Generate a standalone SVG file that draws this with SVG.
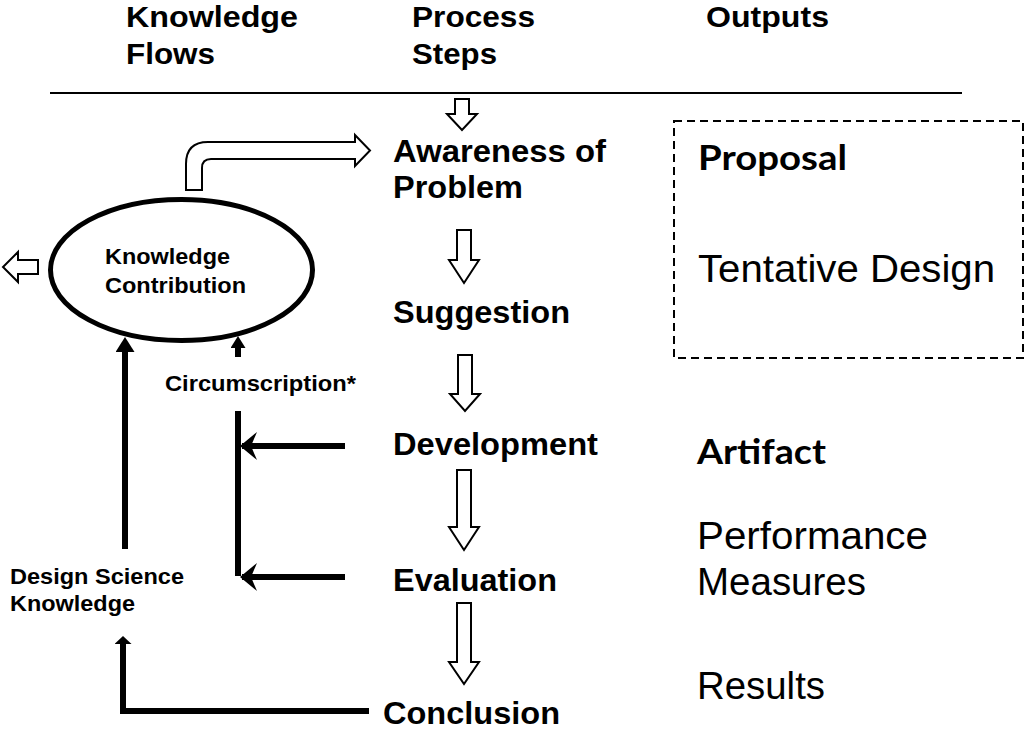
<svg xmlns="http://www.w3.org/2000/svg" width="1034" height="738" viewBox="0 0 1034 738">
<style>
.hd{font-family:"Liberation Sans",Arial,sans-serif;font-weight:bold;font-size:30px;fill:#000}
.st{font-family:"Liberation Sans",Arial,sans-serif;font-weight:bold;font-size:31px;fill:#000}
.sm{font-family:"Liberation Sans",Arial,sans-serif;font-weight:bold;font-size:21.5px;fill:#000}
.ob{font-family:Lato,"Open Sans",sans-serif;font-weight:bold;font-size:34px;fill:#000}
.or{font-family:"Liberation Sans",Arial,sans-serif;font-size:38px;fill:#000}
.hollow{fill:#fff;stroke:#000;stroke-width:2;stroke-linejoin:miter}
.conn{fill:none;stroke:#000;stroke-width:6}
</style>
<defs>
<marker id="tri" markerUnits="userSpaceOnUse" markerWidth="15" markerHeight="19" refX="7" refY="9.5" orient="auto" viewBox="0 0 15 19">
<path d="M0,0 L15,9.5 L0,19 Z" fill="#000"/>
</marker>
<marker id="tri2" markerUnits="userSpaceOnUse" markerWidth="12" markerHeight="15" refX="5" refY="7.5" orient="auto" viewBox="0 0 12 15">
<path d="M0,0 L12,7.5 L0,15 Z" fill="#000"/>
</marker>
<marker id="stealth" markerUnits="userSpaceOnUse" markerWidth="18" markerHeight="30" refX="15" refY="15" orient="auto" viewBox="0 0 18 30">
<path d="M0,1 L17,15 L0,29 L6,15 Z" fill="#000"/>
</marker>
<marker id="small" markerUnits="userSpaceOnUse" markerWidth="8" markerHeight="17" refX="3" refY="8.5" orient="auto" viewBox="0 0 8 17">
<path d="M0,0 L8,8.5 L0,17 Z" fill="#000"/>
</marker>
</defs>
<rect width="1034" height="738" fill="#fff"/>

<g id="header">
<text class="hd" x="126" y="27" textLength="172" lengthAdjust="spacingAndGlyphs">Knowledge</text>
<text class="hd" x="126" y="64" textLength="89" lengthAdjust="spacingAndGlyphs">Flows</text>
<text class="hd" x="412" y="27" textLength="123" lengthAdjust="spacingAndGlyphs">Process</text>
<text class="hd" x="412" y="64" textLength="85" lengthAdjust="spacingAndGlyphs">Steps</text>
<text class="hd" x="706" y="27" textLength="123" lengthAdjust="spacingAndGlyphs">Outputs</text>
<line x1="50" y1="93" x2="962" y2="93" stroke="#000" stroke-width="2"/>
</g>

<g id="knowledge-contribution">
<ellipse cx="181.5" cy="270" rx="131" ry="70.5" fill="#fff" stroke="#000" stroke-width="5"/>
<text class="sm" x="105" y="264" textLength="125" lengthAdjust="spacingAndGlyphs">Knowledge</text>
<text class="sm" x="105" y="293" textLength="141" lengthAdjust="spacingAndGlyphs">Contribution</text>
</g>

<g id="circumscription">
<text class="sm" x="165" y="391" textLength="191" lengthAdjust="spacingAndGlyphs">Circumscription*</text>
</g>

<g id="design-science-knowledge">
<text class="sm" x="10" y="584" textLength="174" lengthAdjust="spacingAndGlyphs">Design Science</text>
<text class="sm" x="10" y="611" textLength="125" lengthAdjust="spacingAndGlyphs">Knowledge</text>
</g>

<g id="step-awareness">
<text class="st" x="393" y="162" textLength="213" lengthAdjust="spacingAndGlyphs">Awareness of</text>
<text class="st" x="393" y="198" textLength="130" lengthAdjust="spacingAndGlyphs">Problem</text>
</g>
<g id="step-suggestion">
<text class="st" x="393" y="323" textLength="177" lengthAdjust="spacingAndGlyphs">Suggestion</text>
</g>
<g id="step-development">
<text class="st" x="393" y="455" textLength="205" lengthAdjust="spacingAndGlyphs">Development</text>
</g>
<g id="step-evaluation">
<text class="st" x="393" y="591" textLength="164" lengthAdjust="spacingAndGlyphs">Evaluation</text>
</g>
<g id="step-conclusion">
<text class="st" x="383" y="724" textLength="177" lengthAdjust="spacingAndGlyphs">Conclusion</text>
</g>

<g id="output-proposal">
<rect x="674" y="121" width="349" height="237" fill="none" stroke="#000" stroke-width="2" stroke-dasharray="8 5"/>
<text class="ob" x="698" y="170" textLength="149" lengthAdjust="spacingAndGlyphs">Proposal</text>
<text class="or" x="698" y="282" textLength="297" lengthAdjust="spacingAndGlyphs">Tentative Design</text>
</g>
<g id="output-artifact">
<text class="ob" x="697" y="464" textLength="129" lengthAdjust="spacingAndGlyphs">Artifact</text>
</g>
<g id="output-performance">
<text class="or" x="697" y="549" textLength="231" lengthAdjust="spacingAndGlyphs">Performance</text>
<text class="or" x="697" y="595" textLength="169" lengthAdjust="spacingAndGlyphs">Measures</text>
</g>
<g id="output-results">
<text class="or" x="697" y="699" textLength="128" lengthAdjust="spacingAndGlyphs">Results</text>
</g>

<g id="connectors">
<path class="hollow" d="M186,190 L186,164 Q186,142 208,142 L355,142 L355,135 L370,150.5 L355,166 L355,159 L211,159 Q202,159 202,168 L202,190 Z"/>
<polygon class="hollow" points="38,260 18,260 18,252 3,267 18,282 18,274 38,274"/>
<polygon class="hollow" points="455,99 469,99 469,114 477,114 462,130 447,114 455,114"/>
<polygon class="hollow" points="457,230 471,230 471,260 479,260 464,283 449,260 457,260"/>
<polygon class="hollow" points="458,355 472,355 472,394 480,394 465,411 450,394 458,394"/>
<polygon class="hollow" points="457,470 471,470 471,527 479,527 464,550 449,527 457,527"/>
<polygon class="hollow" points="457,603 471,603 471,662 479,662 464,684 449,662 457,662"/>
<line class="conn" x1="125" y1="549" x2="125" y2="345" marker-end="url(#tri)"/>
<line class="conn" x1="238" y1="357" x2="238" y2="343" marker-end="url(#tri2)"/>
<line class="conn" x1="238" y1="411" x2="238" y2="576" stroke-width="5"/>
<line class="conn" x1="345" y1="446" x2="242" y2="446" marker-end="url(#stealth)"/>
<line class="conn" x1="345" y1="577" x2="242" y2="577" marker-end="url(#stealth)"/>
<polyline class="conn" points="369,711 123,711 123,641" marker-end="url(#small)"/>
</g>
</svg>
